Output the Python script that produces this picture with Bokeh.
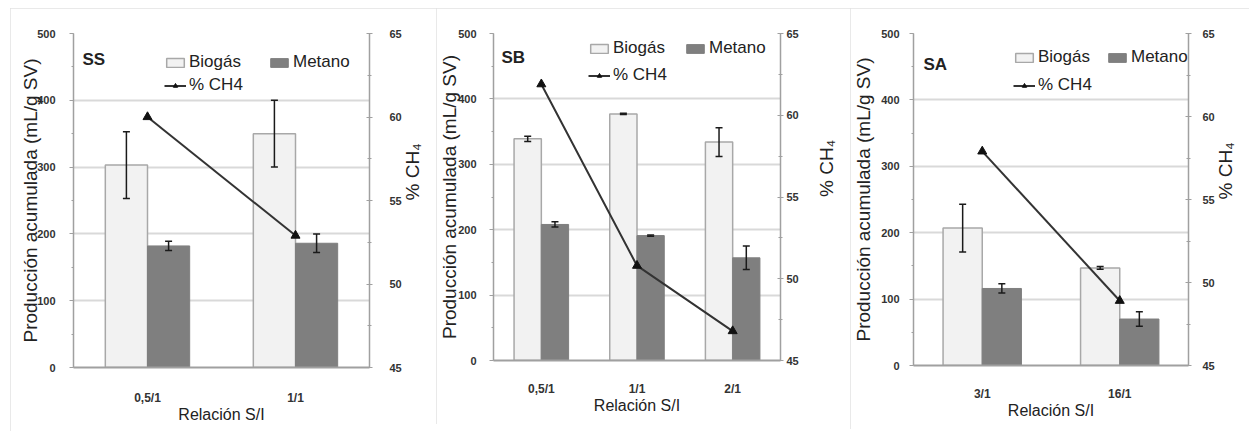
import math
from bokeh.plotting import figure
from bokeh.models import (FactorRange, Range1d, LinearAxis, SingleIntervalTicker, FixedTicker,
                          Legend, LegendItem, ColumnDataSource, Label)
from bokeh.transform import dodge
from bokeh.layouts import row
from bokeh.embed import file_html
from bokeh.resources import INLINE

# ---------------- data ----------------
ss_cats = ["0,5/1", "1/1"]
ss_biogas = [303, 350]
ss_biogas_err = [50, 50]
ss_metano = [182, 186]
ss_metano_err = [7, 14]
ss_ch4 = [60.0, 52.9]

sb_cats = ["0,5/1", "1/1", "2/1"]
sb_biogas = [339, 377, 334]
sb_biogas_err = [4, 1, 22]
sb_metano = [208, 191, 157]
sb_metano_err = [4, 1, 18]
sb_ch4 = [61.9, 50.8, 46.8]

sa_cats = ["3/1", "16/1"]
sa_biogas = [207, 147]
sa_biogas_err = [36, 2]
sa_metano = [116, 70]
sa_metano_err = [7, 11]
sa_ch4 = [57.9, 48.9]

FONT = "Liberation Sans"
BAR_W = 0.285
OFF = BAR_W / 2


def panel(tag, cats, biogas, biogas_err, metano, metano_err, ch4, width, height, margin,
          mb_left, mb_right, mb_top, mb_bottom, left_std, left_lab_std,
          right_std, right_lab_std, x_std, leg_loc, leg_lw, leg_sp, tag_off):
    src = ColumnDataSource(dict(
        cats=cats, biogas=biogas, metano=metano, ch4=ch4,
        b_lo=[v - e for v, e in zip(biogas, biogas_err)],
        b_hi=[v + e for v, e in zip(biogas, biogas_err)],
        m_lo=[v - e for v, e in zip(metano, metano_err)],
        m_hi=[v + e for v, e in zip(metano, metano_err)],
    ))
    p = figure(x_range=FactorRange(factors=cats, range_padding=0),
               y_range=Range1d(0, 500), width=width, height=height,
               output_backend="svg", toolbar_location=None,
               min_border_left=mb_left, min_border_right=mb_right,
               min_border_top=mb_top, min_border_bottom=mb_bottom,
               styles={"outline": "1px solid #e2e2e2", "outline-offset": "-1px"})
    p.margin = margin
    p.outline_line_color = None
    p.background_fill_color = "white"
    p.border_fill_color = "white"
    p.extra_y_ranges = {"ch4": Range1d(45, 65)}

    xb = dodge("cats", -OFF, range=p.x_range)
    xm = dodge("cats", OFF, range=p.x_range)
    rb = p.vbar(x=xb, top="biogas", width=BAR_W, source=src,
                fill_color="#f2f2f2", line_color="#a8a8a8", line_width=1.5)
    rm = p.vbar(x=xm, top="metano", width=BAR_W, source=src,
                fill_color="#7f7f7f", line_color="#7f7f7f", line_width=1)

    for xx, lo, hi in ((xb, "b_lo", "b_hi"), (xm, "m_lo", "m_hi")):
        p.segment(x0=xx, y0=lo, x1=xx, y1=hi, source=src,
                  line_color="#1a1a1a", line_width=1.5)
        p.scatter(x=xx, y=lo, marker="dash", size=7, source=src,
                  line_color="#1a1a1a", line_width=1.5)
        p.scatter(x=xx, y=hi, marker="dash", size=7, source=src,
                  line_color="#1a1a1a", line_width=1.5)

    rl = p.line(x="cats", y="ch4", source=src, y_range_name="ch4",
                line_color="#333333", line_width=2)
    rs = p.scatter(x="cats", y="ch4", source=src, y_range_name="ch4",
                   marker="triangle", size=9, fill_color="#111111",
                   line_color="#111111")

    # left axis
    ya = p.yaxis[0]
    ya.ticker = SingleIntervalTicker(interval=100, num_minor_ticks=2)
    ya.axis_label = "Producción acumulada (mL/g SV)"
    ya.axis_label_text_font = FONT
    ya.axis_label_text_font_size = "19px"
    ya.axis_label_text_font_style = "normal"
    ya.axis_label_text_color = "#222222"
    ya.axis_label_standoff = left_lab_std
    ya.major_label_text_font = FONT
    ya.major_label_text_font_size = "11px"
    ya.major_label_text_font_style = "bold"
    ya.major_label_text_color = "#333333"
    ya.major_label_standoff = left_std
    ya.axis_line_color = "#a0a0a0"
    ya.axis_line_width = 1.5
    ya.major_tick_line_color = "#a0a0a0"
    ya.minor_tick_line_color = "#a0a0a0"
    ya.major_tick_in = 0
    ya.major_tick_out = 4
    ya.minor_tick_in = 0
    ya.minor_tick_out = 2

    # right axis (ticks and numbers)
    ra = LinearAxis(y_range_name="ch4",
                    ticker=SingleIntervalTicker(interval=5, num_minor_ticks=2))
    ra.major_label_text_font = FONT
    ra.major_label_text_font_size = "11px"
    ra.major_label_text_font_style = "bold"
    ra.major_label_text_color = "#333333"
    ra.major_label_standoff = right_std
    ra.axis_line_color = "#a0a0a0"
    ra.axis_line_width = 1.5
    ra.major_tick_line_color = "#a0a0a0"
    ra.minor_tick_line_color = "#a0a0a0"
    ra.major_tick_in = 3
    ra.major_tick_out = 3
    ra.minor_tick_in = 2
    ra.minor_tick_out = 2
    p.add_layout(ra, "right")

    # right axis title only (bounded so the bottom-to-top text sits lower)
    rt = LinearAxis(y_range_name="ch4", ticker=FixedTicker(ticks=[]),
                    bounds=(45, 61.56))
    rt.axis_line_color = None
    rt.major_tick_line_color = None
    rt.minor_tick_line_color = None
    rt.major_tick_in = 0
    rt.major_tick_out = 0
    rt.minor_tick_in = 0
    rt.minor_tick_out = 0
    rt.major_label_standoff = 0
    rt.axis_label = "% CH₄"
    if hasattr(rt, "axis_label_orientation"):
        rt.axis_label_orientation = math.pi / 2
    rt.axis_label_text_font = FONT
    rt.axis_label_text_font_size = "19px"
    rt.axis_label_text_font_style = "normal"
    rt.axis_label_text_color = "#222222"
    rt.axis_label_standoff = right_lab_std
    p.add_layout(rt, "right")

    # bottom axis
    xa = p.xaxis[0]
    xa.axis_label = "Relación S/I"
    xa.axis_label_text_font = FONT
    xa.axis_label_text_font_size = "16px"
    xa.axis_label_text_font_style = "normal"
    xa.axis_label_text_color = "#222222"
    xa.axis_label_standoff = -2
    xa.major_label_text_font = FONT
    xa.major_label_text_font_size = "12px"
    xa.major_label_text_font_style = "bold"
    xa.major_label_text_color = "#333333"
    xa.major_label_standoff = x_std
    xa.axis_line_color = "#a0a0a0"
    xa.axis_line_width = 2
    xa.major_tick_in = 0
    xa.major_tick_out = 0
    xa.major_tick_line_color = None
    xa.minor_tick_line_color = None

    p.xgrid.grid_line_color = None
    p.ygrid.grid_line_color = "#d9d9d9"
    p.ygrid.grid_line_width = 2

    # legend (column-major fill: col1 = Biogás, % CH4 ; col2 = Metano)
    legend = Legend(items=[
        LegendItem(label="Biogás", renderers=[rb]),
        LegendItem(label="% CH4", renderers=[rl, rs]),
        LegendItem(label="Metano", renderers=[rm]),
    ], location=leg_loc, ncols=2)
    legend.label_text_font = FONT
    legend.label_text_font_size = "17px"
    legend.label_text_color = "#222222"
    legend.label_width = leg_lw
    legend.label_height = 20
    legend.label_standoff = 3
    legend.glyph_width = 22
    legend.glyph_height = 11
    legend.spacing = leg_sp
    legend.padding = 0
    legend.margin = 0
    legend.border_line_color = None
    legend.background_fill_alpha = 0
    p.add_layout(legend)

    p.add_layout(Label(x=0, y=500, x_offset=tag_off[0], y_offset=tag_off[1],
                       text=tag, text_font=FONT, text_font_size="17px",
                       text_font_style="bold", text_color="#222222",
                       text_baseline="middle", text_align="left"))
    return p


p1 = panel("SS", ss_cats, ss_biogas, ss_biogas_err, ss_metano, ss_metano_err, ss_ch4,
           426, 423, (8, 0, 0, 10), 63, 64, 25, 64, 14, -7, 17, 8, 23,
           (91, 272), 76, 3, (9, -26))
p2 = panel("SB", sb_cats, sb_biogas, sb_biogas_err, sb_metano, sb_metano_err, sb_ch4,
           414, 416, (8, 0, 7, 0), 54, 63, 25, 64, 13, -5, 3, 25, 21,
           (95, 275), 64, 7, (8, -24))
p3 = panel("SA", sa_cats, sa_biogas, sa_biogas_err, sa_metano, sa_metano_err, sa_ch4,
           399, 421, (8, 0, 2, 0), 62, 54, 25, 64, 10, 4, 11, 8, 21,
           (100, 270), 60, 8, (10, -31))

layout = row(p1, p2, p3, spacing=0)
open("out.html", "w").write(file_html(layout, INLINE))
